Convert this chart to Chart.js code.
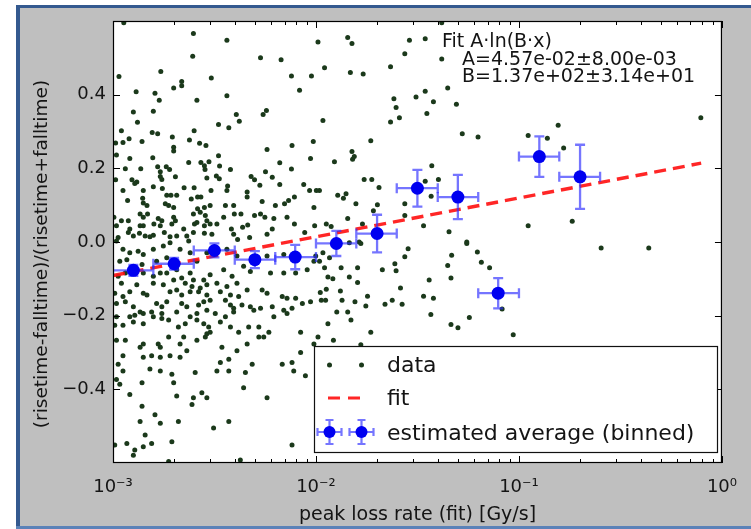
<!DOCTYPE html>
<html><head><meta charset="utf-8">
<script src="https://cdn.jsdelivr.net/npm/chart.js@4.4.1/dist/chart.umd.min.js"></script>
<style>html,body{margin:0;padding:0;background:#fff;overflow:hidden}#wrap{width:751px;height:529px;position:relative}</style>
</head><body><div id="wrap"><canvas id="c" width="751" height="529"></canvas></div>
<script>
// ---- values ----
const dataPoints = [
[2.49e-3,0.566],[3.64e-3,0.548],[2.47e-3,0.504],[5.33e-3,0.5],[6.73e-3,0.495],[1.07e-3,0.449],[1.72e-3,0.463],[3.05e-3,0.445],[7.57e-3,0.451],[9.5e-3,0.451],[1.99e-3,0.418],[2.18e-3,0.436],[2.18e-3,0.424],[1.3e-3,0.408],[1.61e-3,0.404],[1.69e-3,0.385],[2.59e-3,0.385],[3.64e-3,0.397],[8.3e-3,0.412],[1.58e-3,0.355],[1.26e-3,0.353],[1.32e-3,0.325],[4.05e-3,0.346],[4.19e-3,0.328],[5.49e-3,0.346],[5.7e-3,0.357],[3.31e-3,0.319],[3.72e-3,0.31],[1.1e-3,0.302],[1.56e-3,0.297],[1.66e-3,0.294],[2.51e-3,0.302],[9.7e-3,0.273],[1.03e-3,0.269],[1.12e-3,0.27],[1.2e-3,0.28],[1.39e-3,0.273],[1.96e-3,0.285],[2.38e-3,0.277],[2.67e-3,0.268],[2.87e-3,0.262],[7.62e-3,0.262],[1.99e-3,0.257],[1.99e-3,0.247],[5.74e-3,0.251],[1.04e-3,0.236],[1.21e-3,0.227],[1.57e-3,0.229],[2.36e-3,0.216],[2.71e-3,0.216],[2.97e-3,0.218],[3.31e-3,0.234],[9.4e-3,0.227],[1.66e-3,0.204],[1.83e-3,0.204],[1.9e-3,0.197],[1.71e-3,0.191],[1.15e-3,0.199],[1.37e-3,0.199],[2.82e-3,0.207],[2.84e-3,0.197],[3.35e-3,0.206],[3.79e-3,0.197],[6.63e-3,0.215],[7.57e-3,0.198],[1.03e-3,0.169],[1.24e-3,0.169],[1.31e-3,0.163],[1.28e-3,0.159],[1.71e-3,0.178],[1.74e-3,0.17],[2.03e-3,0.177],[2.9e-3,0.174],[3.23e-3,0.179],[3.34e-3,0.172],[4.79e-3,0.178],[4.98e-3,0.169],[5.64e-3,0.191],[6.09e-3,0.176],[3.67e-3,0.152],[3.64e-3,0.14],[4.58e-3,0.136],[4.58e-3,0.122],[5.29e-3,0.154],[6.63e-3,0.156],[8.7e-3,0.156],[9.3e-3,0.14],[1.04e-2,0.14],[1.12e-3,0.14],[1.41e-3,0.14],[1.58e-3,0.15],[1.75e-3,0.145],[1.84e-3,0.127],[1.93e-3,0.127],[2.06e-3,0.127],[2.24e-3,0.147],[2.51e-3,0.147],[2.43e-3,0.117],[2.61e-3,0.122],[2.71e-3,0.122],[3.04e-3,0.14],[1.18e-3,0.113],[1.4e-3,0.119],[1.41e-3,0.106],[1.47e-3,0.099],[1.81e-3,0.104],[1.88e-3,0.099],[1.99e-3,0.094],[2.61e-3,0.09],[2.82e-3,0.094],[3.01e-3,0.099],[3.58e-3,0.099],[3.93e-3,0.099],[5.43e-3,0.11],[6.31e-3,0.099],[7.0e-3,0.104],[7.33e-3,0.113],[7.83e-3,0.122],[9.77e-3,0.094],[1.01e-3,0.067],[1.1e-3,0.058],[1.19e-3,0.058],[1.36e-3,0.076],[1.41e-3,0.067],[1.48e-3,0.076],[1.67e-3,0.064],[1.74e-3,0.058],[1.99e-3,0.067],[2.03e-3,0.058],[2.49e-3,0.076],[2.69e-3,0.081],[2.85e-3,0.072],[2.9e-3,0.058],[3.51e-3,0.067],[3.96e-3,0.076],[4.27e-3,0.076],[4.98e-3,0.072],[5.33e-3,0.076],[5.6e-3,0.067],[6.2e-3,0.064],[7.2e-3,0.067],[1.04e-3,0.044],[1.21e-3,0.035],[1.36e-3,0.044],[1.41e-3,0.044],[1.59e-3,0.049],[1.71e-3,0.044],[1.95e-3,0.049],[2.23e-3,0.035],[2.52e-3,0.049],[2.59e-3,0.053],[2.82e-3,0.044],[3.01e-3,0.049],[3.25e-3,0.049],[3.83e-3,0.035],[4.35e-3,0.04],[4.61e-3,0.046],[6.09e-3,0.035],[7.83e-3,0.049],[8.8e-3,0.026],[9.85e-3,0.044],[1.06e-3,0.012],[1.19e-3,0.026],[1.26e-3,0.016],[1.35e-3,0.024],[1.44e-3,0.016],[1.52e-3,0.014],[1.58e-3,0.018],[1.79e-3,0.026],[1.91e-3,0.014],[2.06e-3,0.016],[2.31e-3,0.016],[2.49e-3,0.026],[2.82e-3,0.024],[3.07e-3,0.021],[3.93e-3,0.021],[4.11e-3,0.007],[4.71e-3,0.012],[5.74e-3,0.021],[1.13e-3,0.595],
[1.04e-3,0.003],[1.12e-3,-0.02],[1.21e-3,-0.029],[1.33e-3,-0.025],[1.41e-3,-0.034],[1.58e-3,-0.02],[1.77e-3,-0.011],[1.91e-3,-0.002],[2.14e-3,-0.02],[2.36e-3,0.003],[2.4e-3,-0.029],[1.08e-3,-0.052],[1.17e-3,-0.048],[1.39e-3,-0.061],[1.64e-3,-0.052],[1.84e-3,-0.043],[2.59e-3,-0.052],[2.9e-3,-0.029],[3.64e-3,-0.02],[4.08e-3,-0.038],[5.74e-3,-0.038],[6.94e-3,-0.034],[9.77e-3,-0.052],[1.06e-3,-0.093],[1.15e-3,-0.084],[1.41e-3,-0.084],[1.58e-3,-0.093],[1.71e-3,-0.084],[1.84e-3,-0.084],[2.06e-3,-0.075],[2.18e-3,-0.098],[2.4e-3,-0.084],[2.49e-3,-0.103],[2.8e-3,-0.103],[3.01e-3,-0.089],[3.51e-3,-0.075],[3.86e-3,-0.093],[4.4e-3,-0.066],[4.75e-3,-0.08],[5.97e-3,-0.084],[6.94e-3,-0.084],[7.94e-3,-0.084],[9.05e-3,-0.075],[1.1e-3,-0.112],[1.31e-3,-0.116],[1.58e-3,-0.112],[1.77e-3,-0.116],[1.99e-3,-0.103],[2.27e-3,-0.112],[2.45e-3,-0.121],[2.69e-3,-0.125],[2.9e-3,-0.116],[3.25e-3,-0.112],[3.64e-3,-0.121],[4.08e-3,-0.112],[1.02e-3,-0.139],[1.12e-3,-0.148],[1.21e-3,-0.135],[1.41e-3,-0.139],[1.47e-3,-0.144],[1.91e-3,-0.135],[2.06e-3,-0.13],[2.18e-3,-0.144],[2.4e-3,-0.135],[2.64e-3,-0.135],[2.9e-3,-0.144],[3.38e-3,-0.135],[3.79e-3,-0.144],[4.16e-3,-0.148],[4.58e-3,-0.13],[5.43e-3,-0.13],[5.74e-3,-0.139],[6.82e-3,-0.148],[7.2e-3,-0.153],[7.94e-3,-0.153],[9.4e-3,-0.162],[1.04e-3,-0.167],[1.15e-3,-0.162],[1.26e-3,-0.176],[1.36e-3,-0.19],[1.64e-3,-0.167],[1.74e-3,-0.176],[1.84e-3,-0.162],[2.18e-3,-0.167],[2.31e-3,-0.176],[2.64e-3,-0.171],[2.8e-3,-0.162],[3.01e-3,-0.158],[3.58e-3,-0.158],[3.79e-3,-0.171],[3.93e-3,-0.18],[4.32e-3,-0.171],[4.75e-3,-0.176],[5.33e-3,-0.18],[6.09e-3,-0.176],[6.94e-3,-0.185],[7.2e-3,-0.194],[7.62e-3,-0.18],[8.57e-3,-0.167],[1.04e-3,-0.203],[1.21e-3,-0.203],[1.28e-3,-0.199],[1.41e-3,-0.194],[1.55e-3,-0.19],[1.74e-3,-0.194],[2.06e-3,-0.19],[2.4e-3,-0.203],[2.59e-3,-0.194],[2.9e-3,-0.185],[3.19e-3,-0.194],[3.58e-3,-0.203],[3.93e-3,-0.19],[4.94e-3,-0.185],[6.2e-3,-0.203],[1.02e-3,-0.226],[1.12e-3,-0.226],[1.26e-3,-0.217],[1.41e-3,-0.222],[1.58e-3,-0.203],[1.74e-3,-0.208],[1.88e-3,-0.212],[2.1e-3,-0.231],[2.27e-3,-0.222],[2.59e-3,-0.212],[2.8e-3,-0.222],[2.96e-3,-0.231],[3.38e-3,-0.217],[3.79e-3,-0.231],[4.66e-3,-0.231],[5.23e-3,-0.231],[1.04e-3,-0.267],[1.15e-3,-0.267],[1.36e-3,-0.286],[1.41e-3,-0.277],[1.67e-3,-0.277],[1.71e-3,-0.286],[1.88e-3,-0.258],[2.14e-3,-0.277],[2.23e-3,-0.258],[2.59e-3,-0.267],[2.85e-3,-0.258],[2.9e-3,-0.249],[3.01e-3,-0.245],[3.44e-3,-0.286],[4.16e-3,-0.245],[4.58e-3,-0.277],[5.23e-3,-0.258],[5.53e-3,-0.258],[5.86e-3,-0.245],[8.4e-3,-0.245],[9.77e-3,-0.277],[1.12e-3,-0.309],[1.06e-3,-0.332],[1.41e-3,-0.313],[1.55e-3,-0.309],[1.71e-3,-0.313],[1.91e-3,-0.309],[2.14e-3,-0.313],[2.31e-3,-0.295],[3.38e-3,-0.327],[3.72e-3,-0.318],[4.08e-3,-0.295],[4.85e-3,-0.332],[6.82e-3,-0.332],[7.62e-3,-0.327],[8.4e-3,-0.3],[1.12e-3,-0.35],[1.04e-3,-0.373],[1.08e-3,-0.386],[1.21e-3,-0.414],[1.39e-3,-0.382],[1.52e-3,-0.345],[1.71e-3,-0.35],[1.95e-3,-0.359],[1.99e-3,-0.382],[2.54e-3,-0.354],[3.25e-3,-0.35],[3.72e-3,-0.35],[4.49e-3,-0.354],[4.4e-3,-0.396],[7.77e-3,-0.35],[8.87e-3,-0.363],[2.06e-3,-0.418],[2.45e-3,-0.441],[2.49e-3,-0.423],[2.74e-3,-0.409],[2.9e-3,-0.423],[5.74e-3,-0.423],[1.39e-3,-0.446],[1.61e-3,-0.469],[1.36e-3,-0.487],[1.71e-3,-0.492],[2.1e-3,-0.487],[3.72e-3,-0.487],[1.44e-3,-0.524],[1.55e-3,-0.547],[1.95e-3,-0.542],[3.13e-3,-0.505],[1.02e-3,-0.551],[1.17e-3,-0.547],[1.28e-3,-0.565],[1.26e-3,-0.579],[1.41e-3,-0.556],[7.62e-3,-0.551],[1.88e-3,-0.596],[4.24e-3,-0.592],
[1.023e-2,0.543],[1.433e-2,0.555],[1.504e-2,0.539],[2.887e-2,0.548],[3.452e-2,0.552],[2.739e-2,0.511],[4.164e-2,0.497],[1.102e-2,0.473],[1.477e-2,0.46],[1.708e-2,0.456],[2.33e-2,0.476],[4.456e-2,0.418],[3.452e-2,0.409],[3.11e-2,0.394],[2.42e-2,0.389],[3.79e-2,0.381],[4.918e-2,0.374],[2.481e-2,0.365],[3.518e-2,0.349],[2.577e-2,0.337],[2.33e-2,0.326],[1.082e-2,0.33],[1.862e-2,0.275],[5.256e-2,0.294],[6.286e-2,0.285],[1.504e-2,0.246],[1.544e-2,0.232],[1.515e-2,0.225],[1.233e-2,0.218],[3.72e-2,0.207],[1.727e-2,0.17],[1.883e-2,0.17],[2.044e-2,0.148],[1.004e-2,0.14],[1.28e-2,0.127],[1.365e-2,0.119],[1.406e-2,0.131],[3.452e-2,0.165],[4.011e-2,0.17],[3.693e-2,0.124],[1.573e-2,0.104],[1.918e-2,0.085],[2.007e-2,0.101],[2.739e-2,0.104],[1.433e-2,0.064],[2.739e-2,0.072],[1.124e-2,0.049],[1.188e-2,0.042],[1.694e-2,0.049],[3.388e-2,0.044],[4.523e-2,0.028],[5.531e-2,0.0],[1.633e-2,0.0],[4.164e-2,0.595],
[5.531e-2,-0.004],[6.237e-2,-0.027],[4.66e-2,-0.036],[6.527e-2,-0.055],[7.165e-2,-0.07],[4.456e-2,-0.064],[4.625e-2,-0.098],[3.611e-2,-0.103],[3.388e-2,-0.147],[3.79e-2,-0.153],[3.68e-2,-0.197],[5.696e-2,-0.205],[4.625e-2,-0.224],[5.005e-2,-0.233],[2.844e-2,-0.018],[2.739e-2,-0.04],[2.447e-2,-0.059],[2.481e-2,-0.078],[2.123e-2,-0.075],[2.608e-2,-0.125],[2.375e-2,-0.158],[2.188e-2,-0.169],[2.657e-2,-0.169],[1.862e-2,-0.245],[1.663e-2,-0.279],[1.603e-2,-0.07],[1.603e-2,-0.11],[1.46e-2,-0.095],[1.794e-2,-0.147],[1.76e-2,-0.174],[1.556e-2,-0.162],[1.344e-2,-0.158],[1.319e-2,-0.133],[1.124e-2,-0.128],[1.05e-2,-0.137],[1.062e-2,-0.158],[1.115e-2,-0.158],[1.266e-2,-0.19],[1.433e-2,-0.19],[1.487e-2,-0.212],[1.145e-2,-0.222],[1.023e-2,-0.258],[1.219e-2,-0.267],[1.102e-2,-0.07],[1.145e-2,-0.095],[1.211e-2,-0.1],[1.33e-2,-0.07],[0.997e-2,-0.038],[1.041e-2,-0.052],[1.082e-2,-0.029],[1.46e-2,-0.002],[1.663e-2,-0.004],[1.166e-2,-0.043],
[0.156,0.317],[0.111,0.289],[0.138,0.282],[0.166,0.255],[0.787,0.337],[0.111,0.044],[0.183,0.056],[0.254,-0.016],[0.436,-0.016],[0.0937,-0.252],[0.0826,-0.182]
];
const fitX = [1e-3, 0.79];
const fitY = [-0.091, 0.214];
const binX    = [1.26e-3, 2.0e-3, 3.16e-3, 5.0e-3, 7.9e-3, 1.26e-2, 2.0e-2, 3.16e-2, 5.0e-2, 7.9e-2, 0.126, 0.2];
const binY    = [-0.077, -0.059, -0.023, -0.048, -0.041, -0.004, 0.023, 0.146, 0.122, -0.139, 0.232, 0.177];
const binXLo  = [1.0e-3, 1.58e-3, 2.5e-3, 3.98e-3, 6.3e-3, 1.0e-2, 1.58e-2, 2.5e-2, 3.98e-2, 6.3e-2, 0.1, 0.158];
const binXHi  = [1.58e-3, 2.5e-3, 3.98e-3, 6.3e-3, 1.0e-2, 1.58e-2, 2.5e-2, 3.98e-2, 6.3e-2, 0.1, 0.158, 0.251];
const binYErr = [0.015, 0.016, 0.019, 0.023, 0.033, 0.034, 0.051, 0.05, 0.06, 0.041, 0.055, 0.087];
const xTickValues = [1e-3, 1e-2, 1e-1, 1];
const xTickLabels = ['10\u207B\u00B3', '10\u207B\u00B2', '10\u207B\u00B9', '10\u2070'];
const yTickValues = [-0.4, -0.2, 0, 0.2, 0.4];
const yTickLabels = ['\u22120.4', '\u22120.2', '0.0', '0.2', '0.4'];
const legendLabels = ['data', 'fit', 'estimated average (binned)'];
const fitText = ['Fit A\u00B7ln(B\u00B7x)', 'A=4.57e-02\u00B18.00e-03', 'B=1.37e+02\u00B13.14e+01'];
const xTitle = 'peak loss rate (fit) [Gy/s]';
const yTitle = '(risetime-falltime)/(risetime+falltime)';

// ---- styles ----
const FONT = '"DejaVu Sans", "Liberation Sans", sans-serif';
const DOT = '#1b391b';
const BLUE = '#0000f0';
const ERR = 'rgba(45,45,255,0.66)';
const RED = 'rgba(255,20,20,0.92)';

function drawErr(ctx, xl, xr, yc, xc, yt, yb, cap) {
  ctx.beginPath();
  ctx.moveTo(xl, yc); ctx.lineTo(xr, yc);
  ctx.moveTo(xl, yc - cap); ctx.lineTo(xl, yc + cap);
  ctx.moveTo(xr, yc - cap); ctx.lineTo(xr, yc + cap);
  ctx.moveTo(xc, yt); ctx.lineTo(xc, yb);
  ctx.moveTo(xc - cap, yt); ctx.lineTo(xc + cap, yt);
  ctx.moveTo(xc - cap, yb); ctx.lineTo(xc + cap, yb);
  ctx.stroke();
}

const decor = {
  id: 'decor',
  beforeDraw(chart) {
    const ctx = chart.ctx, a = chart.chartArea;
    ctx.save();
    ctx.fillStyle = '#ffffff'; ctx.fillRect(0, 0, 751, 529);
    ctx.fillStyle = '#bfbfbf'; ctx.fillRect(17, 6, 751 - 17, 529 - 6);
    ctx.fillStyle = '#34598f';
    ctx.fillRect(16, 5, 751 - 16, 3);
    ctx.fillRect(16, 5, 4, 529 - 5);
    ctx.fillStyle = '#5b82b8';
    ctx.fillRect(16, 526, 751 - 16, 3);
    ctx.fillStyle = '#ffffff';
    ctx.fillRect(a.left, a.top, a.right - a.left, a.bottom - a.top);
    ctx.restore();
  },
  beforeDatasetDraw(chart, args) {
    if (args.index !== 0) return;
    const ctx = chart.ctx, a = chart.chartArea;
    const xs = chart.scales.x, ys = chart.scales.y;
    ctx.save();
    ctx.beginPath(); ctx.rect(a.left, a.top, a.right - a.left, a.bottom - a.top); ctx.clip();
    ctx.strokeStyle = ERR; ctx.lineWidth = 2.3;
    for (let i = 0; i < binX.length; i++) {
      drawErr(ctx, xs.getPixelForValue(binXLo[i]), xs.getPixelForValue(binXHi[i]),
        ys.getPixelForValue(binY[i]), xs.getPixelForValue(binX[i]),
        ys.getPixelForValue(binY[i] + binYErr[i]), ys.getPixelForValue(binY[i] - binYErr[i]), 5);
    }
    ctx.restore();
  },
  afterDraw(chart) {
    const ctx = chart.ctx, a = chart.chartArea;
    const xs = chart.scales.x, ys = chart.scales.y;
    ctx.save();
    // frame
    ctx.strokeStyle = '#000'; ctx.lineWidth = 1.2;
    ctx.strokeRect(a.left + 0.5, a.top + 0.5, a.right - a.left - 1, a.bottom - a.top - 1);
    // ticks
    ctx.beginPath();
    xTickValues.forEach(v => {
      const p = Math.round(xs.getPixelForValue(v)) + 0.5;
      ctx.moveTo(p, a.bottom); ctx.lineTo(p, a.bottom - 7);
      ctx.moveTo(p, a.top); ctx.lineTo(p, a.top + 7);
    });
    for (let d = 0; d < xTickValues.length - 1; d++) {
      for (let k = 2; k <= 9; k++) {
        const p = Math.round(xs.getPixelForValue(xTickValues[d] * k)) + 0.5;
        ctx.moveTo(p, a.bottom); ctx.lineTo(p, a.bottom - 4);
        ctx.moveTo(p, a.top); ctx.lineTo(p, a.top + 4);
      }
    }
    yTickValues.forEach(v => {
      const p = Math.round(ys.getPixelForValue(v)) + 0.5;
      ctx.moveTo(a.left, p); ctx.lineTo(a.left + 7, p);
      ctx.moveTo(a.right, p); ctx.lineTo(a.right - 7, p);
    });
    ctx.lineWidth = 1; ctx.stroke();

    // fit annotation
    ctx.fillStyle = '#141414';
    ctx.font = '19px ' + FONT;
    ctx.textAlign = 'left'; ctx.textBaseline = 'alphabetic';
    ctx.fillText(fitText[0], 442, 47);
    ctx.fillText(fitText[1], 462, 64.5);
    ctx.fillText(fitText[2], 462, 82);

    // legend
    const L = 314, T = 346, R = 718, B = 453;
    ctx.fillStyle = '#fff'; ctx.fillRect(L, T, R - L, B - T);
    ctx.strokeStyle = '#111'; ctx.lineWidth = 1.2;
    ctx.strokeRect(L + 0.5, T + 0.5, R - L - 1, B - T - 1);
    ctx.fillStyle = DOT;
    [329.5, 361.5].forEach(x => { ctx.beginPath(); ctx.arc(x, 365, 2.5, 0, Math.PI * 2); ctx.fill(); });
    ctx.strokeStyle = RED; ctx.lineWidth = 3.2; ctx.setLineDash([12, 8]);
    ctx.beginPath(); ctx.moveTo(328, 398); ctx.lineTo(362, 398); ctx.stroke();
    ctx.setLineDash([]);
    ctx.strokeStyle = ERR; ctx.lineWidth = 2.2;
    [329.5, 361.5].forEach(x => drawErr(ctx, x - 12, x + 12, 432, x, 420, 444, 4));
    ctx.fillStyle = BLUE;
    [329.5, 361.5].forEach(x => { ctx.beginPath(); ctx.arc(x, 432, 6, 0, Math.PI * 2); ctx.fill(); });
    ctx.fillStyle = '#141414';
    ctx.font = '22px ' + FONT;
    ctx.fillText(legendLabels[0], 387, 372);
    ctx.fillText(legendLabels[1], 387, 405);
    ctx.fillText(legendLabels[2], 387, 440);

    // y title
    ctx.translate(42, 254); ctx.rotate(-Math.PI / 2);
    ctx.font = '18.5px ' + FONT; ctx.textAlign = 'center'; ctx.textBaseline = 'middle';
    ctx.fillText(yTitle, 0, 0);
    ctx.restore();
  }
};

new Chart(document.getElementById('c'), {
  type: 'scatter',
  data: {
    datasets: [
      { label: legendLabels[2], data: binX.map((x, i) => ({ x, y: binY[i] })),
        pointRadius: 6.5, pointHoverRadius: 6.5, backgroundColor: BLUE, borderColor: BLUE, borderWidth: 0, clip: 8 },
      { label: legendLabels[1], data: fitX.map((x, i) => ({ x, y: fitY[i] })), showLine: true,
        borderColor: RED, borderWidth: 3.4, borderDash: [12, 7], pointRadius: 0, fill: false, clip: 0 },
      { label: legendLabels[0], data: dataPoints.map(p => ({ x: p[0], y: p[1] })),
        pointRadius: 2.5, pointHoverRadius: 2.5, backgroundColor: DOT, borderWidth: 0, clip: 0 }
    ]
  },
  options: {
    responsive: false, animation: false, devicePixelRatio: 1,
    layout: { padding: { left: 0, right: 23, top: 21, bottom: 0 } },
    plugins: { legend: { display: false }, tooltip: { enabled: false } },
    events: [],
    scales: {
      x: {
        type: 'logarithmic', min: 1e-3, max: 1,
        afterBuildTicks: s => { s.ticks = xTickValues.map(v => ({ value: v, major: true })); },
        afterFit: s => { s.height = 66; },
        grid: { display: false, drawTicks: false }, border: { display: false },
        ticks: { autoSkip: false, maxRotation: 0, padding: 14, color: '#141414',
          font: { family: FONT, size: 18 },
          callback: v => { const i = xTickValues.indexOf(v); return i >= 0 ? xTickLabels[i] : ''; } },
        title: { display: true, text: xTitle, color: '#141414', font: { family: FONT, size: 19 }, padding: { top: 0, bottom: 3 } }
      },
      y: {
        type: 'linear', min: -0.6, max: 0.6,
        afterBuildTicks: s => { s.ticks = yTickValues.map(v => ({ value: v })); },
        afterFit: s => { s.width = 113; },
        grid: { display: false, drawTicks: false }, border: { display: false },
        ticks: { autoSkip: false, padding: 7, color: '#141414', font: { family: FONT, size: 18 },
          callback: v => { const i = yTickValues.findIndex(t => Math.abs(t - v) < 1e-9); return i >= 0 ? yTickLabels[i] : ''; } }
      }
    }
  },
  plugins: [decor]
});
</script></body></html>
